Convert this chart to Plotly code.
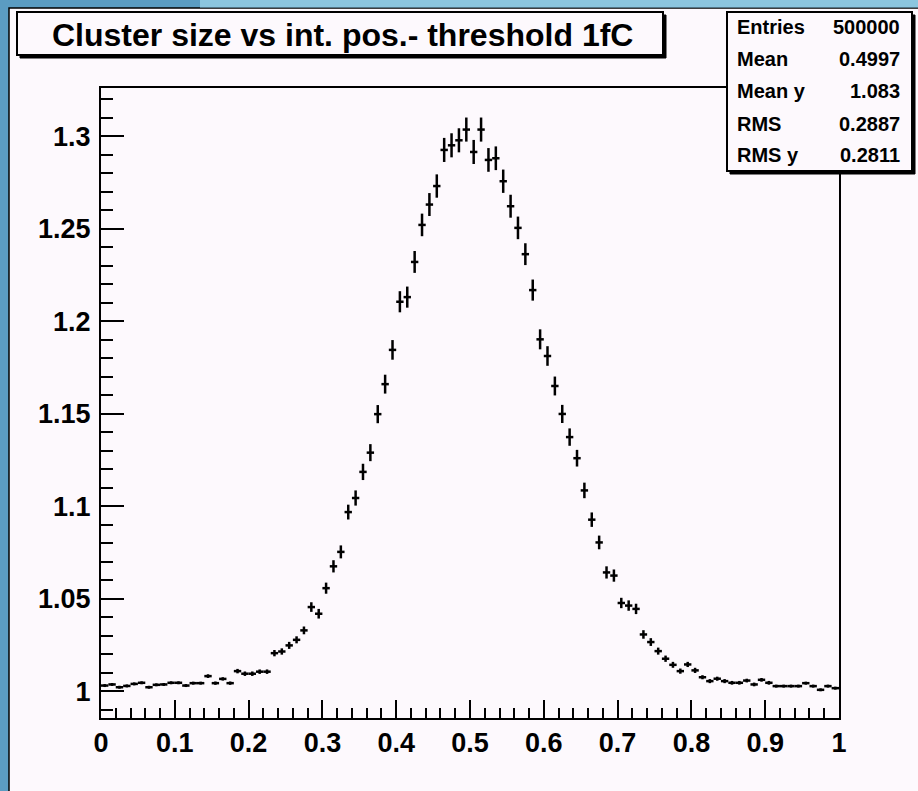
import plotly.graph_objects as go

# ---------------- data ----------------
n_bins = 100
x_lo, x_hi = 0.0, 1.0
bin_w = (x_hi - x_lo) / n_bins
x_centers = [x_lo + (i + 0.5) * bin_w for i in range(n_bins)]

y_means = [
    1.0032, 1.0038, 1.0023, 1.0030, 1.0041, 1.0047, 1.0023, 1.0036, 1.0038, 1.0047,
    1.0047, 1.0032, 1.0045, 1.0045, 1.0083, 1.0045, 1.0068, 1.0045, 1.0110, 1.0096,
    1.0096, 1.0107, 1.0107, 1.0207, 1.0216, 1.0249, 1.0279, 1.0330, 1.0456, 1.0420,
    1.0558, 1.0676, 1.0754, 1.0969, 1.1045, 1.1186, 1.1290, 1.1498, 1.1660, 1.1845,
    1.2105, 1.2130, 1.2320, 1.2520, 1.2630, 1.2730, 1.2925, 1.2950, 1.2977, 1.3035,
    1.2914, 1.3035, 1.2871, 1.2880, 1.2756, 1.2621, 1.2504, 1.2362, 1.2168, 1.1902,
    1.1812, 1.1650, 1.1499, 1.1374, 1.1260, 1.1086, 1.0928, 1.0805, 1.0643, 1.0626,
    1.0478, 1.0464, 1.0446, 1.0308, 1.0267, 1.0218, 1.0177, 1.0144, 1.0110, 1.0146,
    1.0114, 1.0077, 1.0056, 1.0069, 1.0056, 1.0047, 1.0047, 1.0059, 1.0038, 1.0063,
    1.0047, 1.0029, 1.0029, 1.0029, 1.0029, 1.0045, 1.0029, 1.0009, 1.0029, 1.0018,
]

y_errors = [
    0.0008, 0.0008, 0.0008, 0.0008, 0.0008, 0.0008, 0.0008, 0.0008, 0.0008, 0.0008,
    0.0008, 0.0008, 0.0008, 0.0008, 0.0010, 0.0009, 0.0009, 0.0009, 0.0012, 0.0012,
    0.0012, 0.0012, 0.0012, 0.0017, 0.0017, 0.0019, 0.0019, 0.0021, 0.0026, 0.0026,
    0.0030, 0.0033, 0.0035, 0.0040, 0.0041, 0.0044, 0.0046, 0.0049, 0.0051, 0.0053,
    0.0057, 0.0057, 0.0059, 0.0061, 0.0062, 0.0063, 0.0065, 0.0065, 0.0065, 0.0065,
    0.0065, 0.0065, 0.0064, 0.0064, 0.0063, 0.0062, 0.0061, 0.0059, 0.0057, 0.0054,
    0.0053, 0.0051, 0.0049, 0.0047, 0.0045, 0.0042, 0.0039, 0.0037, 0.0033, 0.0033,
    0.0028, 0.0028, 0.0028, 0.0023, 0.0021, 0.0019, 0.0017, 0.0016, 0.0014, 0.0014,
    0.0014, 0.0011, 0.0011, 0.0011, 0.0011, 0.0010, 0.0010, 0.0010, 0.0010, 0.0010,
    0.0010, 0.0008, 0.0008, 0.0008, 0.0008, 0.0008, 0.0008, 0.0008, 0.0008, 0.0008,
]

title_text = "Cluster size vs int. pos.- threshold 1fC"
stat_labels = ["Entries", "Mean", "Mean y", "RMS", "RMS y"]
stat_values = ["500000", "0.4997", "1.083", "0.2887", "0.2811"]

x_tick_vals = [0, 0.1, 0.2, 0.3, 0.4, 0.5, 0.6, 0.7, 0.8, 0.9, 1]
x_tick_text = ["0", "0.1", "0.2", "0.3", "0.4", "0.5", "0.6", "0.7", "0.8", "0.9", "1"]
y_tick_vals = [1, 1.05, 1.1, 1.15, 1.2, 1.25, 1.3]
y_tick_text = ["1", "1.05", "1.1", "1.15", "1.2", "1.25", "1.3"]

# ---------------- layout geometry (pixels) ----------------
W, H = 918, 791
ML, MR, MT, MB = 101, 79, 88, 73
PW = W - ML - MR
PH = H - MT - MB


def px(xpix):
    return (xpix - ML) / PW


def py(ypix):
    return (H - MB - ypix) / PH


CANVAS = "#fdf9fd"
FONT = "Liberation Sans, Arial, Helvetica, sans-serif"

fig = go.Figure()
fig.add_trace(go.Scatter(
    x=x_centers, y=y_means, mode="markers",
    marker=dict(size=0.1, color="black"),
    error_y=dict(type="data", array=y_errors, visible=True, color="black",
                 thickness=2.5, width=0),
    error_x=dict(type="constant", value=bin_w / 2, visible=True, color="black",
                 thickness=2.5, width=0),
    showlegend=False, hoverinfo="skip",
))

shapes = []
# canvas (pad) behind everything
shapes.append(dict(type="rect", xref="paper", yref="paper",
                   x0=px(9), x1=px(W + 5), y0=py(8), y1=py(H + 5),
                   fillcolor=CANVAS, line=dict(color="black", width=1.5),
                   layer="below"))
# lighter top strip of background
shapes.append(dict(type="rect", xref="paper", yref="paper",
                   x0=px(200), x1=px(W + 5), y0=py(-5), y1=py(7.5),
                   fillcolor="#8cc6df", line=dict(width=0), layer="below"))
# title box with shadow
shapes.append(dict(type="rect", xref="paper", yref="paper",
                   x0=px(20), x1=px(666), y0=py(58), y1=py(15),
                   fillcolor="black", line=dict(color="black", width=1), layer="above"))
shapes.append(dict(type="rect", xref="paper", yref="paper",
                   x0=px(17), x1=px(663), y0=py(55), y1=py(12),
                   fillcolor=CANVAS, line=dict(color="black", width=2), layer="above"))
# stats box with shadow
shapes.append(dict(type="rect", xref="paper", yref="paper",
                   x0=px(730), x1=px(915), y0=py(174), y1=py(15),
                   fillcolor="black", line=dict(color="black", width=1), layer="above"))
shapes.append(dict(type="rect", xref="paper", yref="paper",
                   x0=px(727), x1=px(912), y0=py(171), y1=py(12),
                   fillcolor=CANVAS, line=dict(color="black", width=2), layer="above"))

annotations = [dict(
    text=title_text, xref="paper", yref="paper", x=px(342), y=py(35),
    xanchor="center", yanchor="middle", showarrow=False,
    font=dict(family=FONT, size=32, color="black", weight="bold"),
)]
row_y = [27, 59, 91, 124, 155]
for lab, val, ry in zip(stat_labels, stat_values, row_y):
    annotations.append(dict(text=lab, xref="paper", yref="paper", x=px(735), y=py(ry),
                            xanchor="left", yanchor="middle", showarrow=False,
                            font=dict(family=FONT, size=20, color="black", weight="bold")))
    annotations.append(dict(text=val, xref="paper", yref="paper", x=px(902), y=py(ry),
                            xanchor="right", yanchor="middle", showarrow=False,
                            font=dict(family=FONT, size=20, color="black", weight="bold")))

axis_font = dict(family=FONT, size=27, color="black", weight="bold")

fig.update_layout(
    width=W, height=H,
    margin=dict(l=ML, r=MR, t=MT, b=MB, pad=0),
    paper_bgcolor="#5b9cc2",
    plot_bgcolor=CANVAS,
    shapes=shapes,
    annotations=annotations,
    xaxis=dict(
        range=[0, 1], tickvals=x_tick_vals, ticktext=x_tick_text,
        ticks="inside", ticklen=18, tickwidth=2, tickcolor="black",
        minor=dict(dtick=0.02, tick0=0, ticks="inside", ticklen=10,
                   tickwidth=2, tickcolor="black", showgrid=False),
        showline=True, linewidth=2, linecolor="black", mirror=True,
        showgrid=False, zeroline=False, tickfont=axis_font,
        ticklabelstandoff=0,
    ),
    yaxis=dict(
        range=[0.98568, 1.32595], tickvals=y_tick_vals, ticktext=y_tick_text,
        ticks="inside", ticklen=23, tickwidth=2, tickcolor="black",
        minor=dict(dtick=0.01, tick0=1, ticks="inside", ticklen=12,
                   tickwidth=2, tickcolor="black", showgrid=False),
        showline=True, linewidth=2, linecolor="black", mirror=True,
        showgrid=False, zeroline=False, tickfont=axis_font,
        ticklabelstandoff=3,
    ),
)

fig.write_html("out.html")
